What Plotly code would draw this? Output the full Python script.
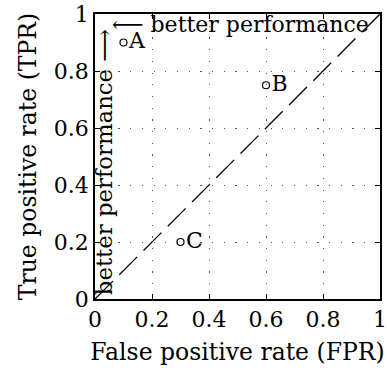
import plotly.graph_objects as go

point_names = ["A", "B", "C"]
fpr = [0.1, 0.6, 0.3]
tpr = [0.9, 0.75, 0.2]
diag_x = [0, 1]
diag_y = [0, 1]
tick_vals = [0, 0.2, 0.4, 0.6, 0.8, 1]
tick_text = ["0", "0.2", "0.4", "0.6", "0.8", "1"]

FONT = "DejaVu Serif"
FS = 22
FT = 23.5

fig = go.Figure()
fig.add_trace(go.Scatter(x=diag_x, y=diag_y, mode="lines",
                         line=dict(color="black", width=1.3, dash="25.3px,9px"),
                         showlegend=False, hoverinfo="skip"))
fig.add_trace(go.Scatter(x=fpr, y=tpr, mode="markers+text", text=point_names,
                         textposition="middle right",
                         textfont=dict(family=FONT, size=FS, color="black"),
                         marker=dict(symbol="circle-open", size=7, color="black",
                                     line=dict(width=1.2, color="black")),
                         showlegend=False, hoverinfo="skip"))

axis_common = dict(range=[0, 1], tickvals=tick_vals, ticktext=tick_text,
                   showline=True, linecolor="black", linewidth=1.8, mirror="ticks",
                   ticks="inside", ticklen=5, tickcolor="black", tickwidth=1,
                   showgrid=True, gridcolor="#555", gridwidth=1.2, griddash="1.2px,10.5px",
                   zeroline=False, automargin=False,
                   tickfont=dict(family=FONT, size=FS, color="black"))

fig.update_layout(
    width=387, height=375,
    margin=dict(l=95, r=7, t=14, b=76, autoexpand=False),
    paper_bgcolor="white", plot_bgcolor="white",
    xaxis=dict(**axis_common,
               title=dict(text="False positive rate (FPR)", standoff=12,
                          font=dict(family=FONT, size=FT, color="black"))),
    yaxis=dict(**axis_common,
               title=dict(text="True positive rate (TPR)", standoff=10,
                          font=dict(family=FONT, size=FT, color="black"))),
)

fig.add_annotation(x=0.052, y=0.962, xref="x", yref="y", text="⟵ better performance",
                   showarrow=False, xanchor="left", yanchor="middle",
                   font=dict(family=FONT, size=FS, color="black"))
fig.add_annotation(x=0.03, y=0.005, xref="x", yref="y", text="better performance ⟶",
                   showarrow=False, textangle=-90, xanchor="center", yanchor="bottom",
                   font=dict(family=FONT, size=22.8, color="black"))

fig.write_html("out.html")
